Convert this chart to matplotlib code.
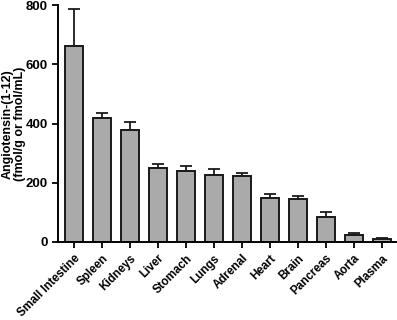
import matplotlib
matplotlib.use("Agg")
import matplotlib.pyplot as plt
import matplotlib.transforms as mtransforms

categories = ["Small Intestine", "Spleen", "Kidneys", "Liver", "Stomach", "Lungs",
              "Adrenal", "Heart", "Brain", "Pancreas", "Aorta", "Plasma"]
values = [662, 420, 379, 251, 241, 227, 223, 150, 146, 85, 23, 9]
errors = [124, 16, 27, 13, 16, 20, 9, 12, 9, 16, 8, 4]
yticks = [0, 200, 400, 600, 800]

plt.rcParams['font.family'] = ['Liberation Sans', 'DejaVu Sans']
plt.rcParams['font.weight'] = 'bold'

fig = plt.figure(figsize=(3.97, 3.2), dpi=100)
ax = fig.add_axes([58/397, 1-242/320, (396-58)/397, (242-5)/320])
x = list(range(len(categories)))
ax.bar(x, values, width=0.65, color='#aaaaaa', edgecolor='#1a1a1a', linewidth=1.4, zorder=2)
ax.errorbar(x, values, yerr=[[0]*len(errors), errors], fmt='none', ecolor='#1a1a1a',
            elinewidth=1.3, capsize=4, capthick=1.3, zorder=1)
ax.set_xlim(-0.57, 11.5)
ax.set_ylim(0, 800)
ax.set_yticks(yticks)
ax.set_yticklabels([str(v) for v in yticks], fontsize=9.5, fontweight='bold')
ax.set_xticks(x)
labels = ax.set_xticklabels(categories, rotation=45, ha='right', va='top',
                            rotation_mode='anchor', fontsize=8.4, fontweight='bold')
offset = mtransforms.ScaledTranslation(0.07, 0.01, fig.dpi_scale_trans)
for lab in labels:
    lab.set_transform(lab.get_transform() + offset)
fig.text(14/397, 1-124/320, "Angiotensin-(1-12)\n(fmol/g or fmol/mL)", rotation=90,
         ha='center', va='center', fontsize=9, fontweight='bold', linespacing=1.05)
for s in ['top', 'right']:
    ax.spines[s].set_visible(False)
for s in ['left', 'bottom']:
    ax.spines[s].set_linewidth(1.4)
ax.tick_params(direction='out', width=1.3, length=4)
fig.savefig("out.png", dpi=100)
